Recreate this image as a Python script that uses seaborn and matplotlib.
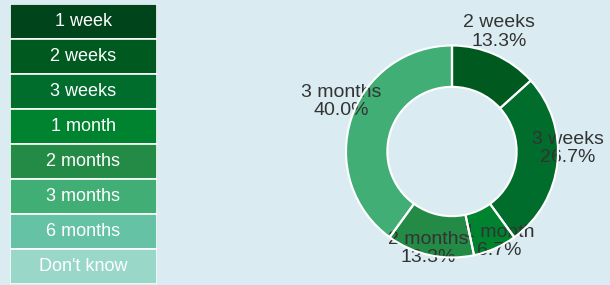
# plot.py
import numpy as np
import pandas as pd
import seaborn as sns
import matplotlib.pyplot as plt

# Data
categories = ['1 week', '2 weeks', '3 weeks', '1 month', '2 months',
              '3 months', '6 months', "Don't know"]
counts = [0, 2, 4, 1, 2, 6, 0, 0]
colors = ['#00441b', '#005a20', '#006d2c', '#00832f', '#238b45',
          '#41ae76', '#66c2a4', '#99d8c9']

bg = '#daecf2'
sns.set_theme(style='white')
plt.rcParams['font.family'] = ['Liberation Sans', 'DejaVu Sans']

fig = plt.figure(figsize=(6.1, 2.85), dpi=100)
fig.patch.set_facecolor(bg)

# Legend as a column of coloured boxes
leg_ax = fig.add_axes([10 / 610, 1 / 285, 147 / 610, 280 / 285])
df = pd.DataFrame({'label': categories, 'one': [1] * len(categories)})
sns.barplot(data=df, x='one', y='label', hue='label', palette=colors,
            orient='h', width=1.0, legend=False, ax=leg_ax, saturation=1,
            edgecolor='white', linewidth=1.2)
leg_ax.set_xlim(0, 1)
leg_ax.set_ylim(len(categories) - 0.5, -0.5)
leg_ax.axis('off')
for i, lab in enumerate(categories):
    leg_ax.text(0.5, i, lab, ha='center', va='center', color='white',
                fontsize=13)

# Donut chart
r_px = 106
half = 135
ax = fig.add_axes([(452 - half) / 610, (133.5 - half) / 285,
                   2 * half / 610, 2 * half / 285])
ax.set_facecolor(bg)
lim = half / r_px
vals = np.array(counts, dtype=float)
ax.pie(vals, colors=colors, startangle=90, counterclock=False,
       wedgeprops=dict(width=0.39, linewidth=0), radius=1)
ax.pie(vals, colors=['none'] * len(vals), startangle=90, counterclock=False,
       wedgeprops=dict(width=0.39, edgecolor='white', linewidth=1.5,
                       facecolor='none', zorder=5), radius=1)
ax.set_xlim(-lim, lim)
ax.set_ylim(-lim, lim)
ax.set_aspect('equal')
ax.axis('off')

total = vals.sum()
start = 0.0
for lab, v in zip(categories, vals):
    if v == 0:
        continue
    frac = v / total
    mid = np.deg2rad((start + frac / 2) * 360)
    x = 1.1 * np.sin(mid)
    y = 1.08 * np.cos(mid) + 0.14
    ax.text(x, y, f'{lab}\n{frac * 100:.1f}%', ha='center', va='center',
            color='#333333', fontsize=14, linespacing=1.1, zorder=3)
    start += frac

fig.savefig('out.png', dpi=100, facecolor=bg)
